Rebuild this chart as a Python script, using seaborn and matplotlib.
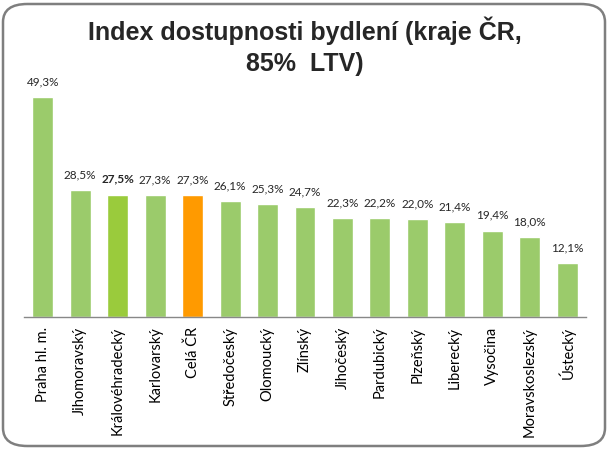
import seaborn as sns
import matplotlib.pyplot as plt
import pandas as pd
from matplotlib.patches import FancyBboxPatch

# data
regions = ["Praha hl. m.", "Jihomoravský", "Královéhradecký", "Karlovarský", "Celá ČR",
           "Středočeský", "Olomoucký", "Zlínský", "Jihočeský", "Pardubický",
           "Plzeňský", "Liberecký", "Vysočina", "Moravskoslezský", "Ústecký"]
index_values = [49.3, 28.5, 27.5, 27.3, 27.3, 26.1, 25.3, 24.7, 22.3, 22.2, 22.0, 21.4, 19.4, 18.0, 12.1]
title_lines = ["Index dostupnosti bydlení (kraje ČR,", "85%  LTV)"]
highlight = "Královéhradecký"
total = "Celá ČR"

green = "#9BCB6B"
green_hi = "#9ACB3C"
orange = "#FF9A00"

def main():
    sns.set_style("white")
    plt.rcParams['font.family'] = ['Lato', 'DejaVu Sans']

    df = pd.DataFrame({"kraj": regions, "index": index_values})
    colors = [green_hi if r == highlight else orange if r == total else green for r in regions]

    fig = plt.figure(figsize=(6.1, 4.5), dpi=100)
    ax = fig.add_axes([24 / 610, 1 - 317 / 450, 562 / 610, (317 - 72) / 450])

    sns.barplot(data=df, x="kraj", y="index", hue="kraj", palette=colors,
                legend=False, width=0.56, ax=ax, saturation=1)

    ax.set_ylim(0, 55)
    ax.set_xlim(-0.5, len(regions) - 0.5)
    ax.set_xlabel("")
    ax.set_ylabel("")
    ax.set_yticks([])
    ax.tick_params(axis='x', length=0, pad=7)
    plt.setp(ax.get_xticklabels(), rotation=90, fontsize=10.5, color="#000000")
    for s in ["top", "right", "left"]:
        ax.spines[s].set_visible(False)
    ax.spines["bottom"].set_color("#888888")
    ax.spines["bottom"].set_linewidth(1)

    # value labels with decimal comma
    hi_pos = regions.index(highlight)
    for cont in ax.containers:
        labels = [f"{v:.1f}".replace(".", ",") + "%" for v in cont.datavalues]
        ax.bar_label(cont, labels=labels, padding=7, fontsize=8.5)
    for t in ax.texts:
        if abs(t.xy[0] - hi_pos) < 0.5:
            t.set_fontweight("bold")

    # title, one text per line
    title_font = ['Liberation Sans Narrow', 'Liberation Sans', 'DejaVu Sans']
    fig.text(0.5, 1 - 40 / 450, title_lines[0], ha="center", va="baseline",
             fontsize=18, fontweight="bold", family=title_font)
    fig.text(0.5, 1 - 71 / 450, title_lines[1], ha="center", va="baseline",
             fontsize=18, fontweight="bold", family=title_font)

    # rounded chart border
    border = FancyBboxPatch((3 / 610, 4 / 450), 602 / 610, 442 / 450,
                            boxstyle="round,pad=0,rounding_size=0.04",
                            transform=fig.transFigure, facecolor="none",
                            edgecolor="#7F7F7F", linewidth=1.8)
    fig.patches.append(border)

    fig.savefig("out.png", dpi=100)

main()
